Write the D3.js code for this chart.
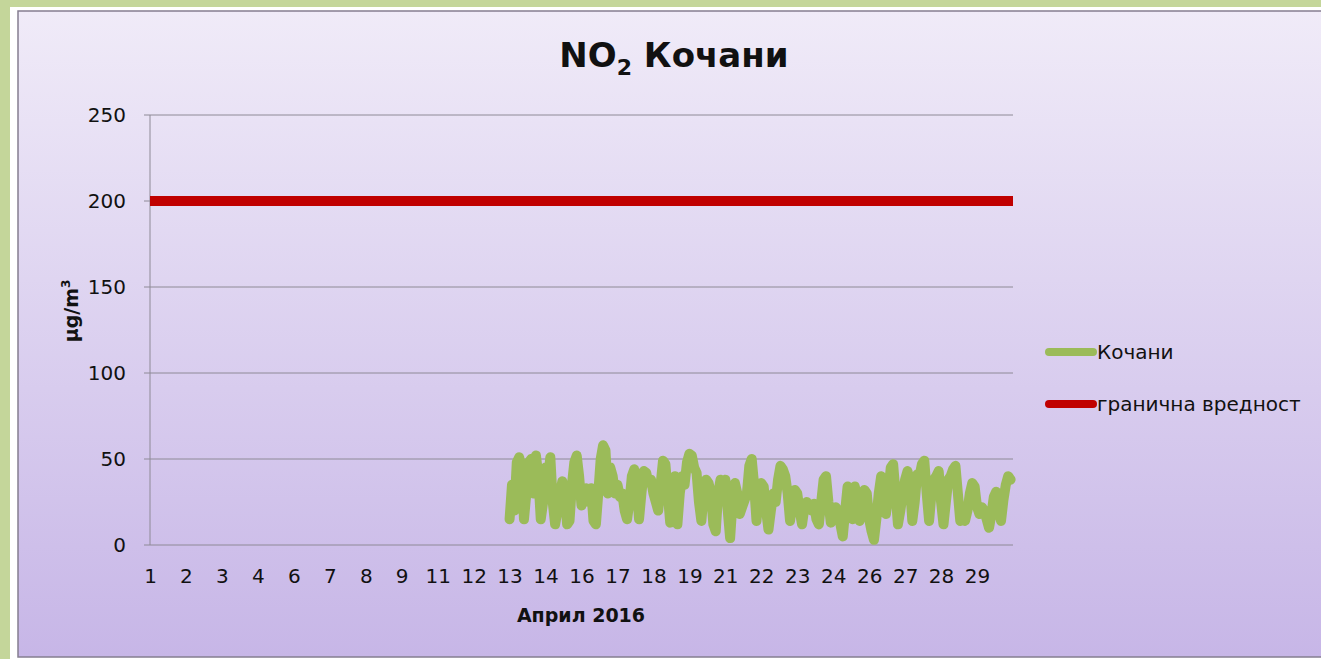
<!DOCTYPE html>
<html>
<head>
<meta charset="utf-8">
<script src="https://cdn.jsdelivr.net/npm/d3@7"></script>
<style>
    body { margin: 0; background: #c4d69a; }
    svg { display: block; font-family: "Comic Sans MS", "DejaVu Sans", sans-serif; }
</style>
</head>
<body>
<div id="chart"></div>
<script>
// one category per hour of April (0 = 1 April 00:00), label every 30 hours
const hoursInMonth = 720;
const tickLabels = ["1", "2", "3", "4", "6", "7", "8", "9", "11", "12", "13", "14",
    "16", "17", "18", "19", "21", "22", "23", "24", "26", "27", "28", "29"];
const yTicks = [0, 50, 100, 150, 200, 250];

// Кочани, NO2 µg/m3, every 2 hours from 13 April 12:00
const kochaniStart = 300;
const kochaniStep = 2;
const kochaniValues = [
    15, 35, 20, 48, 51, 45, 15, 30, 48, 50, 30, 52, 40, 15, 25, 45, 38, 51, 25, 12,
    20, 30, 37, 30, 12, 14, 35, 48, 52, 40, 23, 30, 33, 25, 33, 14, 12, 30, 50, 58,
    55, 30, 45, 40, 30, 35, 28, 30, 20, 15, 25, 40, 44, 35, 15, 30, 43, 42, 36, 38,
    30, 25, 20, 35, 49, 47, 30, 13, 25, 40,
    12, 30, 40, 35, 48, 53, 52, 45, 42, 25, 14, 30, 38, 36, 30, 12, 8, 30, 38, 36,
    38, 20, 4, 25, 36, 30, 18, 22, 26, 30, 46, 50, 35, 14, 30, 36, 34, 20, 9, 20,
    30, 25, 38, 46, 44, 40, 30, 14, 25, 32, 30, 20, 12, 22, 25, 22, 20, 24, 15, 12,
    25, 38, 40, 25, 13, 18, 22, 20, 12, 5, 20, 34,
    30, 15, 34, 28, 14, 20, 32, 30, 15, 8, 3, 15, 30, 40, 38, 18, 30, 45, 47, 30,
    12, 20, 30, 38, 43, 35, 14, 25, 41, 40, 47, 49, 30, 14, 30, 38, 40, 43, 25, 12,
    25, 38, 40, 44, 46, 30, 14, 20, 14, 20, 30, 36, 34, 22, 18, 22, 20, 15, 10, 18,
    28, 31, 20, 14, 26, 35, 40, 38];

// гранична вредност
const limitHours = [0, 720];
const limitValues = [200, 200];

const width = 1321, height = 659;
const margin = { top: 115, left: 150, right: 308, bottom: 114 };
const fontFamily = "\"Comic Sans MS\", \"DejaVu Sans\", sans-serif";

const svg = d3.select("#chart").append("svg")
    .attr("width", width)
    .attr("height", height);

// background gradient
const grad = svg.append("defs").append("linearGradient")
    .attr("id", "bg")
    .attr("x1", 0).attr("y1", 0).attr("x2", 0).attr("y2", 1);
grad.append("stop").attr("offset", "0%").attr("stop-color", "#f0ebf8");
grad.append("stop").attr("offset", "100%").attr("stop-color", "#c7b6e7");

svg.append("rect")
    .attr("x", 10).attr("y", 7)
    .attr("width", width).attr("height", height)
    .attr("fill", "#ffffff");
svg.append("rect")
    .attr("x", 18).attr("y", 11)
    .attr("width", width).attr("height", 646)
    .attr("fill", "url(#bg)")
    .attr("stroke", "#857e90")
    .attr("stroke-width", 1.5);

const x = d3.scaleLinear()
    .domain([0, hoursInMonth])
    .range([margin.left, width - margin.right]);
const y = d3.scaleLinear()
    .domain([0, 250])
    .range([height - margin.bottom, margin.top]);

// grid
svg.append("g")
    .selectAll("line")
    .data(yTicks)
    .join("line")
    .attr("x1", margin.left - 6)
    .attr("x2", width - margin.right)
    .attr("y1", d => y(d))
    .attr("y2", d => y(d))
    .attr("stroke", "#8e8a96")
    .attr("stroke-width", 1);

svg.append("line")
    .attr("x1", margin.left).attr("x2", margin.left)
    .attr("y1", y(250)).attr("y2", y(0))
    .attr("stroke", "#8e8a96");

// y labels
svg.append("g")
    .selectAll("text")
    .data(yTicks)
    .join("text")
    .attr("x", 126)
    .attr("y", d => y(d))
    .attr("dy", "0.35em")
    .attr("text-anchor", "end")
    .attr("font-size", 20)
    .attr("fill", "#111")
    .text(d => d);

// x labels
const xAxis = d3.axisBottom(x)
    .tickValues(tickLabels.map((d, i) => i * 30))
    .tickFormat((d, i) => tickLabels[i])
    .tickSize(0)
    .tickPadding(24);
const gx = svg.append("g")
    .attr("transform", `translate(0, ${y(0)})`)
    .call(xAxis);
gx.select(".domain").remove();
gx.selectAll("text")
    .attr("font-size", 20)
    .attr("font-family", fontFamily)
    .attr("fill", "#111");

const line = d3.line()
    .x(d => x(d[0]))
    .y(d => y(d[1]));

svg.append("path")
    .datum(limitHours.map((h, i) => [h, limitValues[i]]))
    .attr("fill", "none")
    .attr("stroke", "#c00000")
    .attr("stroke-width", 10)
    .attr("d", line);

svg.append("path")
    .datum(kochaniValues.map((v, i) => [kochaniStart + i * kochaniStep, v]))
    .attr("fill", "none")
    .attr("stroke", "#9bbb59")
    .attr("stroke-width", 10)
    .attr("stroke-linejoin", "round")
    .attr("stroke-linecap", "round")
    .attr("d", line);

// title
const title = svg.append("text")
    .attr("x", 674)
    .attr("y", 67)
    .attr("text-anchor", "middle")
    .attr("font-size", 34)
    .attr("font-weight", "bold")
    .attr("fill", "#111");
title.append("tspan").text("NO");
title.append("tspan").attr("font-size", 22).attr("dy", 8).text("2");
title.append("tspan").attr("dy", -8).text(" Кочани");

// axis titles
svg.append("text")
    .attr("transform", "translate(78, 311) rotate(-90)")
    .attr("text-anchor", "middle")
    .attr("font-size", 19)
    .attr("font-weight", "bold")
    .attr("fill", "#111")
    .html("μg/m<tspan font-size='12' dy='-8'>3</tspan>");

svg.append("text")
    .attr("x", 581)
    .attr("y", 622)
    .attr("text-anchor", "middle")
    .attr("font-size", 19)
    .attr("font-weight", "bold")
    .attr("fill", "#111")
    .text("Април 2016");

// legend
const legendItems = [
    { name: "Кочани", color: "#9bbb59", y: 352 },
    { name: "гранична вредност", color: "#c00000", y: 404 }
];
const lg = svg.append("g")
    .selectAll("g")
    .data(legendItems)
    .join("g")
    .attr("transform", d => `translate(1045, ${d.y})`);
lg.append("line")
    .attr("x1", 4).attr("x2", 48)
    .attr("stroke", d => d.color)
    .attr("stroke-width", 8)
    .attr("stroke-linecap", "round");
lg.append("text")
    .attr("x", 52)
    .attr("dy", "0.35em")
    .attr("font-size", 20)
    .attr("fill", "#111")
    .text(d => d.name);
</script>
</body>
</html>
